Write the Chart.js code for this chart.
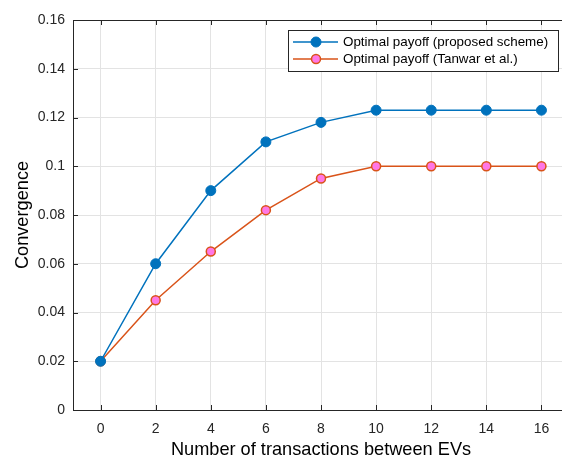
<!DOCTYPE html>
<html>
<head>
<meta charset="utf-8">
<script src="https://cdn.jsdelivr.net/npm/chart.js@4"></script>
<style>
  html, body { margin: 0; padding: 0; background: #fff; overflow: hidden; }
  #wrap { width: 575px; height: 459px; }
</style>
</head>
<body>
<div id="wrap"><canvas id="myChart" width="575" height="459"></canvas></div>
<script>
const transactions = [0, 2, 4, 6, 8, 10, 12, 14, 16]
const proposedScheme = [0.02, 0.06, 0.09, 0.11, 0.118, 0.123, 0.123, 0.123, 0.123]
const tanwar = [0.02, 0.045, 0.065, 0.082, 0.095, 0.1, 0.1, 0.1, 0.1]
const xTicks = [0, 2, 4, 6, 8, 10, 12, 14, 16]
const yTicks = [0, 0.02, 0.04, 0.06, 0.08, 0.1, 0.12, 0.14, 0.16]
const labels = ['Optimal payoff (proposed scheme)', 'Optimal payoff (Tanwar et al.)']

const font = 'Liberation Sans, Arial, sans-serif'
const axisColor = '#262626'

let toPoints = arr => arr.map((v, i) => ({ x: transactions[i], y: v }))

// matlab style box, inner ticks, and legend
const matlabBox = {
    id: 'matlabBox',
    afterDatasetsDraw(chart) {
        const { ctx, chartArea: a, scales } = chart
        ctx.save()
        ctx.strokeStyle = axisColor
        ctx.lineWidth = 1
        ctx.strokeRect(a.left + 0.5, a.top + 0.5, a.right - a.left, a.bottom - a.top)
        ctx.beginPath()
        xTicks.forEach(t => {
            let px = Math.round(scales.x.getPixelForValue(t)) + 0.5
            ctx.moveTo(px, a.bottom); ctx.lineTo(px, a.bottom - 5)
            ctx.moveTo(px, a.top); ctx.lineTo(px, a.top + 5)
        })
        yTicks.forEach(t => {
            let py = Math.round(scales.y.getPixelForValue(t)) + 0.5
            ctx.moveTo(a.left, py); ctx.lineTo(a.left + 5, py)
            ctx.moveTo(a.right, py); ctx.lineTo(a.right - 5, py)
        })
        ctx.stroke()

        // legend
        const bx = 288.5, by = 30.5, bw = 270, bh = 41
        ctx.fillStyle = '#fff'
        ctx.fillRect(bx, by, bw, bh)
        ctx.strokeStyle = axisColor
        ctx.strokeRect(bx, by, bw, bh)
        ctx.font = '13.4px ' + font
        ctx.textBaseline = 'middle'
        chart.data.datasets.forEach((ds, i) => {
            let yy = 42 + i * 17
            ctx.strokeStyle = ds.borderColor
            ctx.lineWidth = 1.5
            ctx.beginPath()
            ctx.moveTo(293, yy); ctx.lineTo(338, yy)
            ctx.stroke()
            ctx.beginPath()
            ctx.arc(316, yy, ds.pointRadius, 0, Math.PI * 2)
            ctx.fillStyle = ds.pointBackgroundColor
            ctx.fill()
            ctx.lineWidth = ds.pointBorderWidth
            ctx.strokeStyle = ds.pointBorderColor
            ctx.stroke()
            ctx.fillStyle = '#000'
            ctx.fillText(ds.label, 343, yy + 0.5)
        })
        ctx.restore()
    }
}

const config = {
    type: 'line',
    data: {
        datasets: [{
            label: labels[0],
            data: toPoints(proposedScheme),
            borderColor: '#0072BD',
            borderWidth: 1.5,
            pointBackgroundColor: '#0072BD',
            pointBorderColor: '#0072BD',
            pointBorderWidth: 1,
            pointRadius: 5,
            tension: 0
        }, {
            label: labels[1],
            data: toPoints(tanwar),
            borderColor: '#D95319',
            borderWidth: 1.5,
            pointBackgroundColor: '#FF77E6',
            pointBorderColor: '#D95319',
            pointBorderWidth: 1.5,
            pointRadius: 4.5,
            tension: 0
        }]
    },
    options: {
        responsive: false,
        animation: false,
        layout: { padding: { top: 20, right: 2, left: 0, bottom: 0 } },
        plugins: { legend: { display: false }, tooltip: { enabled: false } },
        scales: {
            x: {
                type: 'linear',
                min: -1,
                max: 17,
                afterBuildTicks: s => { s.ticks = xTicks.map(v => ({ value: v })) },
                afterFit: s => { s.height = 49; s.paddingLeft = 0; s.paddingRight = 0 },
                grid: { color: '#e3e3e3', drawTicks: false },
                border: { display: false },
                ticks: { color: axisColor, font: { family: font, size: 14 }, padding: 11, maxRotation: 0 },
                title: { display: true, text: 'Number of transactions between EVs', color: '#000',
                         font: { family: font, size: 18.2, lineHeight: 1.0 }, padding: { top: 4, bottom: 0 } }
            },
            y: {
                min: 0,
                max: 0.16,
                afterBuildTicks: s => { s.ticks = yTicks.map(v => ({ value: v })) },
                afterFit: s => { s.width = 73 },
                grid: { color: '#e3e3e3', drawTicks: false },
                border: { display: false },
                ticks: { color: axisColor, font: { family: font, size: 14 }, padding: 8,
                         callback: v => String(Math.round(v * 100) / 100) },
                title: { display: true, text: 'Convergence', color: '#000',
                         font: { family: font, size: 18.2 }, padding: { top: 12, bottom: 0 } }
            }
        }
    },
    plugins: [matlabBox]
}

let myChart = new Chart(document.getElementById('myChart'), config)
</script>
</body>
</html>
